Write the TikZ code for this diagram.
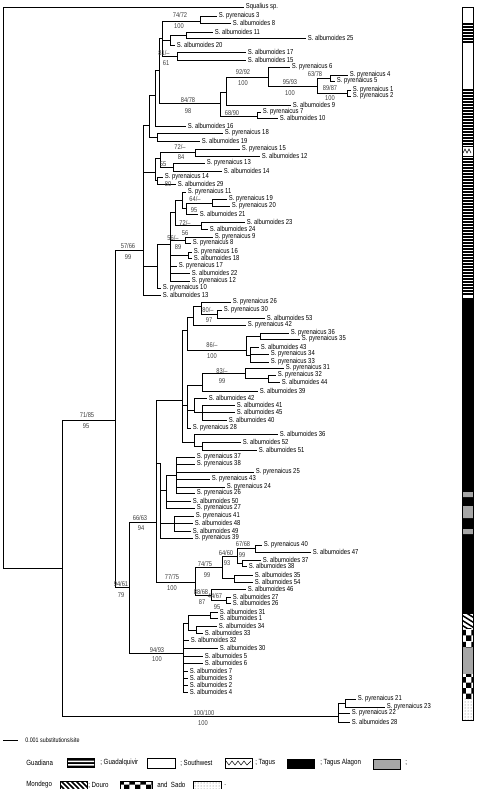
\documentclass[tikz,border=0pt]{standalone}
\usepackage{fontspec}
\setmainfont[FakeStretch=0.82]{Liberation Sans}
\usetikzlibrary{patterns}
\begin{document}
\begin{tikzpicture}[x=1pt,y=-1pt,line width=0.65pt,
  lab/.style={anchor=west,inner sep=1.5pt,font=\fontsize{7.2}{8}\selectfont},
  sup/.style={inner sep=0pt,font=\fontsize{7}{8}\selectfont,text=black!75},
  key/.style={anchor=west,inner sep=0pt,font=\fontsize{7.5}{9}\selectfont}]
\useasboundingbox (0,0) rectangle (480,789);
% internal nodes
\coordinate (r) at (3,300);
\coordinate (n62) at (62,568);
\coordinate (n115) at (115,420);
\coordinate (n143) at (143,250);
\coordinate (n129) at (129,587);
\coordinate (n156) at (156,522);
\coordinate (n183) at (183,653);
\coordinate (nsado) at (338,716);
\coordinate (ne1) at (149,125);
\coordinate (nd1) at (155,95);
\coordinate (nc1) at (159,70);
\coordinate (na1) at (162,38);
\coordinate (n38) at (200,21);
\coordinate (nb1) at (170,40);
\coordinate (n186) at (186,35);
\coordinate (n177) at (177,56);
\coordinate (n220) at (220,103);
\coordinate (n226) at (226,92);
\coordinate (n268) at (268,77);
\coordinate (n317) at (317,86);
\coordinate (n330) at (330,78);
\coordinate (n347) at (347,93);
\coordinate (n257) at (257,116);
\coordinate (n157) at (157,137);
\coordinate (ni) at (155,172);
\coordinate (nh) at (160,158);
\coordinate (n195b) at (195,152);
\coordinate (n173) at (173,167);
\coordinate (n157b) at (157,180);
\coordinate (nu) at (157,266);
\coordinate (nv) at (170,244);
\coordinate (nk) at (175,212);
\coordinate (n182c) at (182,200);
\coordinate (n186b) at (186,208);
\coordinate (n212) at (212,203);
\coordinate (n201b) at (201,225);
\coordinate (n185) at (185,240);
\coordinate (n188b) at (188,255);
\coordinate (n182) at (182,400);
\coordinate (na) at (187,330);
\coordinate (nt1) at (193,317);
\coordinate (n201) at (201,306);
\coordinate (n217) at (217,314);
\coordinate (n86) at (246,350);
\coordinate (n260) at (260,336);
\coordinate (n250) at (250,355);
\coordinate (nb) at (187,405);
\coordinate (nc) at (202,385);
\coordinate (n245) at (245,373);
\coordinate (n268b) at (268,378);
\coordinate (nd) at (194,410);
\coordinate (ne) at (202,412);
\coordinate (n194) at (194,442);
\coordinate (n202b) at (202,446);
\coordinate (nm) at (160,463);
\coordinate (nm1) at (166,490);
\coordinate (nn) at (176,475);
\coordinate (nm2) at (174,523);
\coordinate (n195) at (195,582);
\coordinate (n222) at (222,567);
\coordinate (n237) at (237,556);
\coordinate (n255) at (255,548);
\coordinate (n242) at (242,563);
\coordinate (n234) at (234,578);
\coordinate (n211) at (211,595);
\coordinate (n226b) at (226,600);
\coordinate (n188) at (188,623);
\coordinate (n210) at (210,615);
\coordinate (n196) at (196,630);
\coordinate (n345) at (345,703);
% leaves
\node[lab] (sq) at (244,7) {Squalius sp.};
\node[lab] (p3) at (217,16) {S. pyrenaicus 3};
\node[lab] (a8) at (231,23) {S. albumoides 8};
\node[lab] (a11) at (213,32) {S. albumoides 11};
\node[lab] (a25) at (306,38) {S. albumoides 25};
\node[lab] (a20) at (175,45) {S. albumoides 20};
\node[lab] (a17) at (246,52) {S. albumoides 17};
\node[lab] (a15) at (246,60) {S. albumoides 15};
\node[lab] (p6) at (290,67) {S. pyrenaicus 6};
\node[lab] (p4) at (348,75) {S. pyrenaicus 4};
\node[lab] (p5) at (335,81) {S. pyrenaicus 5};
\node[lab] (p1) at (351,90) {S. pyrenaicus 1};
\node[lab] (p2) at (351,96) {S. pyrenaicus 2};
\node[lab] (a9) at (291,105) {S. albumoides 9};
\node[lab] (p7) at (261,112) {S. pyrenaicus 7};
\node[lab] (a10) at (278,118) {S. albumoides 10};
\node[lab] (a16) at (186,126) {S. albumoides 16};
\node[lab] (p18) at (223,133) {S. pyrenaicus 18};
\node[lab] (a19) at (200,141) {S. albumoides 19};
\node[lab] (p15) at (240,149) {S. pyrenaicus 15};
\node[lab] (a12) at (260,156) {S. albumoides 12};
\node[lab] (p13) at (205,163) {S. pyrenaicus 13};
\node[lab] (a14) at (222,171) {S. albumoides 14};
\node[lab] (p14) at (163,177) {S. pyrenaicus 14};
\node[lab] (a29) at (176,184) {S. albumoides 29};
\node[lab] (p11) at (186,192) {S. pyrenaicus 11};
\node[lab] (p19) at (227,199) {S. pyrenaicus 19};
\node[lab] (p20) at (230,206) {S. pyrenaicus 20};
\node[lab] (a21) at (198,214) {S. albumoides 21};
\node[lab] (a23) at (245,222) {S. albumoides 23};
\node[lab] (a24) at (208,229) {S. albumoides 24};
\node[lab] (p9) at (213,237) {S. pyrenaicus 9};
\node[lab] (p8) at (191,243) {S. pyrenaicus 8};
\node[lab] (p16) at (192,252) {S. pyrenaicus 16};
\node[lab] (a18) at (192,258) {S. albumoides 18};
\node[lab] (p17) at (177,266) {S. pyrenaicus 17};
\node[lab] (a22) at (190,273) {S. albumoides 22};
\node[lab] (p12) at (190,281) {S. pyrenaicus 12};
\node[lab] (p10) at (161,288) {S. pyrenaicus 10};
\node[lab] (a13) at (161,295) {S. albumoides 13};
\node[lab] (p26) at (231,302) {S. pyrenaicus 26};
\node[lab] (p30) at (222,310) {S. pyrenaicus 30};
\node[lab] (a53) at (265,318) {S. albumoides 53};
\node[lab] (p42) at (246,325) {S. pyrenaicus 42};
\node[lab] (p36) at (289,333) {S. pyrenaicus 36};
\node[lab] (p35) at (300,339) {S. pyrenaicus 35};
\node[lab] (a43) at (259,347) {S. albumoides 43};
\node[lab] (p34) at (269,354) {S. pyrenaicus 34};
\node[lab] (p33) at (269,362) {S. pyrenaicus 33};
\node[lab] (p31) at (284,368) {S. pyrenaicus 31};
\node[lab] (p32) at (276,375) {S. pyrenaicus 32};
\node[lab] (a44) at (280,382) {S. albumoides 44};
\node[lab] (a39) at (258,391) {S. albumoides 39};
\node[lab] (a42) at (207,398) {S. albumoides 42};
\node[lab] (a41) at (235,405) {S. albumoides 41};
\node[lab] (a45) at (235,412) {S. albumoides 45};
\node[lab] (a40) at (227,420) {S. albumoides 40};
\node[lab] (p28) at (191,428) {S. pyrenaicus 28};
\node[lab] (a36) at (278,434) {S. albumoides 36};
\node[lab] (a52) at (241,442) {S. albumoides 52};
\node[lab] (a51) at (257,450) {S. albumoides 51};
\node[lab] (p37) at (195,457) {S. pyrenaicus 37};
\node[lab] (p38) at (195,464) {S. pyrenaicus 38};
\node[lab] (p25) at (254,472) {S. pyrenaicus 25};
\node[lab] (p43) at (210,479) {S. pyrenaicus 43};
\node[lab] (p24) at (225,487) {S. pyrenaicus 24};
\node[lab] (p26b) at (195,493) {S. pyrenaicus 26};
\node[lab] (a50) at (191,501) {S. albumoides 50};
\node[lab] (p27) at (195,508) {S. pyrenaicus 27};
\node[lab] (p41) at (194,516) {S. pyrenaicus 41};
\node[lab] (a48) at (193,523) {S. albumoides 48};
\node[lab] (a49) at (191,531) {S. albumoides 49};
\node[lab] (p39) at (193,538) {S. pyrenaicus 39};
\node[lab] (p40) at (262,545) {S. pyrenaicus 40};
\node[lab] (a47) at (311,552) {S. albumoides 47};
\node[lab] (a37) at (261,560) {S. albumoides 37};
\node[lab] (a38) at (247,566) {S. albumoides 38};
\node[lab] (a35) at (253,575) {S. albumoides 35};
\node[lab] (a54) at (253,582) {S. albumoides 54};
\node[lab] (a46) at (246,589) {S. albumoides 46};
\node[lab] (a27) at (231,597) {S. albumoides 27};
\node[lab] (a26) at (231,603) {S. albumoides 26};
\node[lab] (a31) at (218,612) {S. albumoides 31};
\node[lab] (a1) at (218,618) {S. albumoides 1};
\node[lab] (a34) at (217,626) {S. albumoides 34};
\node[lab] (a33) at (203,633) {S. albumoides 33};
\node[lab] (a32) at (189,640) {S. albumoides 32};
\node[lab] (a30) at (218,648) {S. albumoides 30};
\node[lab] (a5) at (203,656) {S. albumoides 5};
\node[lab] (a6) at (203,663) {S. albumoides 6};
\node[lab] (a7) at (188,671) {S. albumoides 7};
\node[lab] (a3) at (188,678) {S. albumoides 3};
\node[lab] (a2) at (188,685) {S. albumoides 2};
\node[lab] (a4) at (188,692) {S. albumoides 4};
\node[lab] (p21) at (356,699) {S. pyrenaicus 21};
\node[lab] (p23) at (385,707) {S. pyrenaicus 23};
\node[lab] (p22) at (350,713) {S. pyrenaicus 22};
\node[lab] (a28) at (350,722) {S. albumoides 28};
% branches
\draw (r) |- (sq.west) (r) |- (n62)
  (n62) |- (n115) (n62) |- (nsado)
  (n115) |- (n143) (n115) |- (n129)
  (n143) |- (ne1) (n143) |- (ni) (n143) |- (nu) (n143) |- (a13.west)
  (ne1) |- (nd1) (ne1) |- (n157)
  (nd1) |- (nc1) (nd1) |- (a16.west)
  (nc1) |- (na1) (nc1) |- (n220)
  (na1) |- (n38) (na1) |- (nb1) (na1) |- (n177)
  (n38) |- (p3.west) (n38) |- (a8.west)
  (nb1) |- (n186) (nb1) |- (a20.west)
  (n186) |- (a11.west) (n186) |- (a25.west)
  (n177) |- (a17.west) (n177) |- (a15.west)
  (n220) |- (n226) (n220) |- (n257)
  (n226) |- (n268) (n226) |- (a9.west)
  (n268) |- (p6.west) (n268) |- (n317)
  (n317) |- (n330) (n317) |- (n347)
  (n330) |- (p4.west) (n330) |- (p5.west)
  (n347) |- (p1.west) (n347) |- (p2.west)
  (n257) |- (p7.west) (n257) |- (a10.west)
  (n157) |- (p18.west) (n157) |- (a19.west)
  (ni) |- (nh) (ni) |- (n157b)
  (nh) |- (n195b) (nh) |- (n173)
  (n195b) |- (p15.west) (n195b) |- (a12.west)
  (n173) |- (p13.west) (n173) |- (a14.west)
  (n157b) |- (p14.west) (n157b) |- (a29.west)
  (nu) |- (nv) (nu) |- (p10.west)
  (nv) |- (nk) (nv) |- (n185) (nv) |- (n188b)
  (nv) |- (p17.west) (nv) |- (a22.west) (nv) |- (p12.west)
  (nk) |- (n182c) (nk) |- (n201b)
  (n182c) |- (p11.west) (n182c) |- (n186b)
  (n186b) |- (n212) (n186b) |- (a21.west)
  (n212) |- (p19.west) (n212) |- (p20.west)
  (n201b) |- (a23.west) (n201b) |- (a24.west)
  (n185) |- (p9.west) (n185) |- (p8.west)
  (n188b) |- (p16.west) (n188b) |- (a18.west);
\draw (n129) |- (n156) (n129) |- (n183)
  (n156) |- (n182) (n156) |- (nm) (n156) |- (n195)
  (n182) |- (na) (n182) |- (nb) (n182) |- (n194)
  (na) |- (nt1) (na) |- (n86)
  (nt1) |- (n201) (nt1) |- (p42.west)
  (n201) |- (p26.west) (n201) |- (n217)
  (n217) |- (p30.west) (n217) |- (a53.west)
  (n86) |- (n260) (n86) |- (n250)
  (n260) |- (p36.west) (n260) |- (p35.west)
  (n250) |- (a43.west) (n250) |- (p34.west) (n250) |- (p33.west)
  (nb) |- (nc) (nb) |- (nd) (nb) |- (p28.west)
  (nc) |- (n245) (nc) |- (a39.west)
  (n245) |- (p31.west) (n245) |- (n268b)
  (n268b) |- (p32.west) (n268b) |- (a44.west)
  (nd) |- (a42.west) (nd) |- (ne)
  (ne) |- (a41.west) (ne) |- (a45.west) (ne) |- (a40.west)
  (n194) |- (a36.west) (n194) |- (n202b)
  (n202b) |- (a52.west) (n202b) |- (a51.west)
  (nm) |- (nm1) (nm) |- (nm2) (nm) |- (p39.west)
  (nm1) |- (nn) (nm1) |- (a50.west) (nm1) |- (p27.west)
  (nn) |- (p37.west) (nn) |- (p38.west) (nn) |- (p25.west)
  (nn) |- (p43.west) (nn) |- (p24.west) (nn) |- (p26b.west)
  (nm2) |- (p41.west) (nm2) |- (a48.west) (nm2) |- (a49.west)
  (n195) |- (n222) (n195) |- (n211)
  (n222) |- (n237) (n222) |- (n234)
  (n237) |- (n255) (n237) |- (n242)
  (n255) |- (p40.west) (n255) |- (a47.west)
  (n242) |- (a37.west) (n242) |- (a38.west)
  (n234) |- (a35.west) (n234) |- (a54.west)
  (n211) |- (a46.west) (n211) |- (n226b)
  (n226b) |- (a27.west) (n226b) |- (a26.west)
  (n183) |- (n188) (n183) |- (a32.west) (n183) |- (a30.west)
  (n183) |- (a5.west) (n183) |- (a6.west) (n183) |- (a7.west)
  (n183) |- (a3.west) (n183) |- (a2.west) (n183) |- (a4.west)
  (n188) |- (n210) (n188) |- (n196)
  (n210) |- (a31.west) (n210) |- (a1.west)
  (n196) |- (a34.west) (n196) |- (a33.west)
  (nsado) |- (n345) (nsado) |- (p22.west) (nsado) |- (a28.west)
  (n345) |- (p21.west) (n345) |- (p23.west);
% support values
\node[sup] (s1) at (180,15) {74/72};
\node[sup] (s2) at (179,26) {100};
\node[sup] (s3) at (164,53) {81/--};
\node[sup] (s4) at (166,63) {61};
\node[sup] (s5) at (243,72) {92/92};
\node[sup] (s6) at (243,83) {100};
\node[sup] (s7) at (315,74) {63/78};
\node[sup] (s8) at (290,82) {95/93};
\node[sup] (s9) at (290,93) {100};
\node[sup] (s10) at (330,88) {89/87};
\node[sup] (s11) at (330,98) {100};
\node[sup] (s12) at (188,100) {84/78};
\node[sup] (s13) at (188,111) {98};
\node[sup] (s14) at (232,113) {68/90};
\node[sup] (s15) at (180,147) {72/--};
\node[sup] (s16) at (181,157) {84};
\node[sup] (s17) at (163,164) {55};
\node[sup] (s18) at (168,184) {80};
\node[sup] (s19) at (195,199) {64/--};
\node[sup] (s20) at (194,210) {95};
\node[sup] (s21) at (185,223) {72/--};
\node[sup] (s22) at (185,233) {56};
\node[sup] (s23) at (173,238) {56/--};
\node[sup] (s24) at (178,247) {89};
\node[sup] (s25) at (128,246) {57/66};
\node[sup] (s26) at (128,257) {99};
\node[sup] (s27) at (208,310) {80/--};
\node[sup] (s28) at (209,320) {97};
\node[sup] (s29) at (212,345) {86/--};
\node[sup] (s30) at (212,356) {100};
\node[sup] (s31) at (222,371) {83/--};
\node[sup] (s32) at (222,381) {99};
\node[sup] (s33) at (87,415) {71/85};
\node[sup] (s34) at (86,426) {95};
\node[sup] (s35) at (140,518) {66/63};
\node[sup] (s36) at (141,528) {94};
\node[sup] (s37) at (243,544) {67/68};
\node[sup] (s38) at (242,555) {99};
\node[sup] (s39) at (226,553) {64/60};
\node[sup] (s40) at (227,563) {93};
\node[sup] (s41) at (205,564) {74/75};
\node[sup] (s42) at (207,575) {99};
\node[sup] (s43) at (172,577) {77/75};
\node[sup] (s44) at (172,588) {100};
\node[sup] (s45) at (121,584) {94/61};
\node[sup] (s46) at (121,595) {79};
\node[sup] (s47) at (201,592) {88/68};
\node[sup] (s48) at (202,602) {87};
\node[sup] (s49) at (215,596) {44/67};
\node[sup] (s50) at (217,607) {95};
\node[sup] (s51) at (157,650) {94/93};
\node[sup] (s52) at (157,659) {100};
\node[sup] (s53) at (204,713) {100/100};
\node[sup] (s54) at (203,723) {100};
% drainage bar
\draw[line width=0.5pt] (462,7) rectangle (473,720);
\foreach \y in {24,27,...,44} \draw[line width=1.3pt] (462,\y) -- (473,\y);
\foreach \y in {90,93,...,296} \draw[line width=1.3pt] (462,\y) -- (473,\y);
\fill[white] (462.5,147) rectangle (472.5,156);
\draw[line width=0.5pt] (463,153) -- (465,149) -- (467,153) -- (469,149) -- (471,153);
\fill (462,298) rectangle (473,614);
\fill[gray!70] (462,492) rectangle (473,497) (462,506) rectangle (473,518) (462,529) rectangle (473,534);
\begin{scope}
\clip (462,614) rectangle (473,628);
\foreach \y in {604,609,...,640} \draw[line width=1.5pt] (460,\y) -- (476,\y+10);
\end{scope}
\fill[pattern=checkerboard] (462,628) rectangle (473,648);
\fill[gray!70] (462,648) rectangle (473,674);
\fill[pattern=checkerboard] (462,674) rectangle (473,698);
\fill[pattern=dots,pattern color=black!60] (462,698) rectangle (473,720);
\draw[line width=0.5pt] (462,7) rectangle (473,720);
% scale bar and key
\coordinate (sb1) at (3,740);
\coordinate (sb2) at (18,740);
\draw (sb1) -- (sb2);
\node[key,font=\fontsize{6.5}{7}\selectfont] (sbl) at (25,740) {0.001 substitutions/site};
\node[key] (k1) at (26,763) {Guadiana};
\fill (67,758) rectangle (95,768);
\fill[white] (68,760.5) rectangle (94,762) (68,764) rectangle (94,765.5);
\node[key] (k2) at (100,763) {; Guadalquivir};
\draw (147,758) rectangle (175,768);
\node[key] (k3) at (180,763) {; Southwest};
\draw (225,758) rectangle (252,768);
\draw[line width=0.5pt] (226,761) -- (229,765) -- (232,761) -- (235,765) -- (238,761) -- (241,765) -- (244,761) -- (247,765) -- (251,761);
\node[key] (k4) at (255,763) {; Tagus};
\fill (287,759) rectangle (315,769);
\node[key] (k5) at (320,763) {; Tagus Alagon};
\filldraw[fill=gray!70] (373,759) rectangle (400,769);
\node[key] (k6) at (405,763) {;};
\node[key] (k7) at (26,785) {Mondego};
\begin{scope}
\clip (60,781) rectangle (87,789);
\foreach \x in {56,61,...,90} \draw[line width=1.5pt] (\x,781) -- (\x+8,789);
\end{scope}
\draw (60,781) rectangle (87,789);
\node[key] (k8) at (88,785) {; Douro};
\fill[pattern=checkerboard] (120,781) rectangle (152,789);
\draw (120,781) rectangle (152,789);
\node[key] (k9) at (157,785) {and \ Sado};
\fill[pattern=dots,pattern color=black!60] (193,781) rectangle (221,789);
\draw[line width=0.4pt] (193,781) rectangle (221,789);
\node[key] (k10) at (224,785) {.};
\end{tikzpicture}
\end{document}
